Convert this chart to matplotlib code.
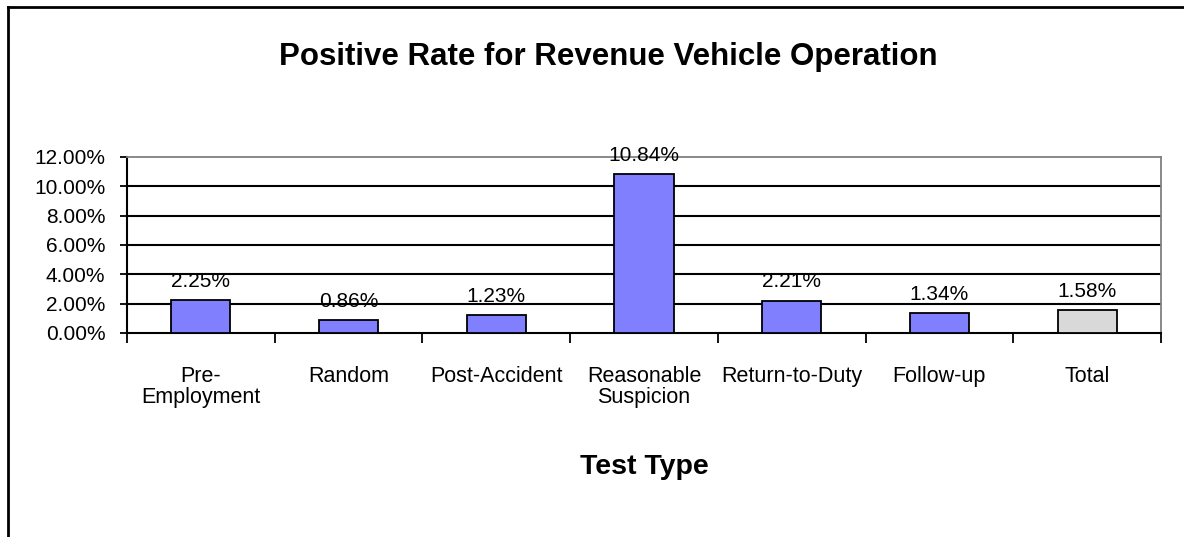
import matplotlib
matplotlib.use("Agg")
import matplotlib.pyplot as plt
from matplotlib.lines import Line2D
from matplotlib.ticker import FixedLocator, NullFormatter

plt.rcParams['font.family'] = ['Liberation Sans', 'DejaVu Sans']

categories = ["Pre-\nEmployment", "Random", "Post-Accident", "Reasonable\nSuspicion",
              "Return-to-Duty", "Follow-up", "Total"]
rates = [2.25, 0.86, 1.23, 10.84, 2.21, 1.34, 1.58]
colors = ["#8080FF"] * 6 + ["#D9D9D9"]
yticks = [0, 2, 4, 6, 8, 10, 12]

W, H = 1184, 537
fig = plt.figure(figsize=(W / 100, H / 100), dpi=100)
ax = fig.add_axes([127 / W, 1 - 333 / H, (1161 - 127) / W, (333 - 157) / H])

x = list(range(len(categories)))
ax.bar(x, rates, width=0.4, color=colors, edgecolor="black", linewidth=1.3, zorder=3)

for xi, v in zip(x, rates):
    ax.annotate(f"{v:.2f}%", (xi, v), xytext=(0, 13.5), textcoords="offset points",
                ha="center", va="center", fontsize=15, zorder=4)

ax.set_xlim(-0.5, len(categories) - 0.5)
ax.set_ylim(0, 12)
ax.set_yticks(yticks)
ax.set_yticklabels([f"{t:.2f}%" for t in yticks], fontsize=15)
ax.tick_params(axis="y", length=5, width=1.3, pad=10.5, direction="out")

ax.xaxis.set_major_locator(FixedLocator([i - 0.5 for i in range(len(categories) + 1)]))
ax.xaxis.set_major_formatter(NullFormatter())
ax.xaxis.set_minor_locator(FixedLocator(x))
ax.set_xticklabels(categories, minor=True, fontsize=15.5, linespacing=0.95)
ax.tick_params(axis="x", which="major", length=7, width=1.3, direction="out")
ax.tick_params(axis="x", which="minor", length=0, pad=24)

for t in yticks[1:-1]:
    ax.axhline(t, color="black", linewidth=1.5, zorder=1)

ax.spines["left"].set_color("black")
ax.spines["left"].set_linewidth(1.5)
ax.spines["bottom"].set_color("black")
ax.spines["bottom"].set_linewidth(1.5)
ax.spines["top"].set_color("#808080")
ax.spines["top"].set_linewidth(1.3)
ax.spines["right"].set_color("#808080")
ax.spines["right"].set_linewidth(1.3)

fig.text(608 / W, 1 - 57 / H, "Positive Rate for Revenue Vehicle Operation",
         ha="center", va="center", fontsize=22.5, fontweight="bold")
fig.text(644 / W, 1 - 467 / H, "Test Type", ha="center", va="center",
         fontsize=20.5, fontweight="bold")

# outer chart border (only top and left visible in the cropped reference)
fig.add_artist(Line2D([8 / W, 1], [1 - 6.5 / H, 1 - 6.5 / H], color="black", linewidth=2,
                      transform=fig.transFigure))
fig.add_artist(Line2D([8 / W, 8 / W], [0, 1 - 6.5 / H], color="black", linewidth=2,
                      transform=fig.transFigure))

fig.savefig("out.png", dpi=100)
